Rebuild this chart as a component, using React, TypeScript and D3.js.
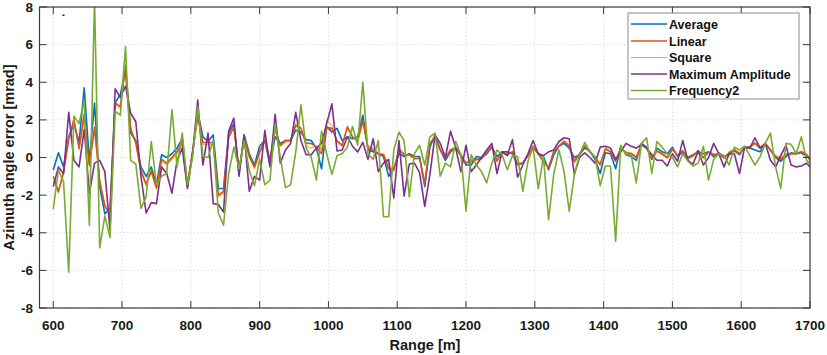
import React from "react";
import * as d3 from "d3";

const RANGE_M: number[] = [
  600, 607.5, 615, 622.5, 630, 637.5, 645, 652.5, 660, 667.5, 675, 682.5, 690, 697.5, 705, 712.5, 720, 727.5, 735, 742.5,
  750, 757.5, 765, 772.5, 780, 787.5, 795, 802.5, 810, 817.5, 825, 832.5, 840, 847.5, 855, 862.5, 870, 877.5, 885, 892.5,
  900, 907.5, 915, 922.5, 930, 937.5, 945, 952.5, 960, 967.5, 975, 982.5, 990, 997.5, 1005, 1012.5, 1020, 1027.5, 1035, 1042.5,
  1050, 1057.5, 1065, 1072.5, 1080, 1087.5, 1095, 1102.5, 1110, 1117.5, 1125, 1132.5, 1140, 1147.5, 1155, 1162.5, 1170, 1177.5, 1185, 1192.5,
  1200, 1207.5, 1215, 1222.5, 1230, 1237.5, 1245, 1252.5, 1260, 1267.5, 1275, 1282.5, 1290, 1297.5, 1305, 1312.5, 1320, 1327.5, 1335, 1342.5,
  1350, 1357.5, 1365, 1372.5, 1380, 1387.5, 1395, 1402.5, 1410, 1417.5, 1425, 1432.5, 1440, 1447.5, 1455, 1462.5, 1470, 1477.5, 1485, 1492.5,
  1500, 1507.5, 1515, 1522.5, 1530, 1537.5, 1545, 1552.5, 1560, 1567.5, 1575, 1582.5, 1590, 1597.5, 1605, 1612.5, 1620, 1627.5, 1635, 1642.5,
  1650, 1657.5, 1665, 1672.5, 1680, 1687.5, 1695, 1702.5,
];

const AVERAGE: number[] = [
  -0.66, 0.25, -0.5, 1.1, 1.8, 0.8, 3.7, -0.2, 2.9, -1.55, -3.0, -2.7, 2.9, 3.35, 4.6, 1.3, 0.9, -0.5, -1.0, -0.5,
  -1.45, 0.15, 0.0, 0.2, 0.5, 1.0, -1.55, 0.2, 2.4, 1.1, 0.85, 1.2, -1.65, -1.65, 1.3, 1.8, -0.85, 1.2, 0.2, -0.4,
  0.6, 0.9, -0.4, 1.1, 0.75, 0.9, 0.9, 1.45, 1.35, 0.95, 0.9, 0.5, -0.6, 1.65, 1.35, 1.55, 0.9, 1.1, 1.0, 1.1,
  2.25, 0.4, 0.3, 0.2, 0.05, -1.0, -0.6, 0.2, 0.05, 0.2, 0.05, 0.05, -1.55, 0.55, 1.2, 0.4, -0.15, 0.3, 0.55, 0.15,
  -0.4, -0.4, 0.05, 0.0, 0.2, 0.55, 0.05, 0.3, 0.3, 0.2, -0.4, -0.3, 0.15, 0.55, 0.2, 0.05, -0.65, 0.15, 0.6, 0.75,
  0.5, 0.0, 0.15, 0.5, 0.35, -0.1, -0.85, 0.25, 0.2, -0.6, 0.6, 0.15, 0.05, -0.15, 0.75, 0.55, -0.1, 0.5, 0.3, 0.2,
  0.55, 0.05, 0.3, 0.0, 0.15, 0.3, 0.2, 0.3, 0.05, 0.25, 0.05, 0.15, 0.35, 0.15, 0.55, 0.5, 0.4, 0.3, 0.75, 0.4,
  0.0, -0.2, 0.05, 0.25, 0.2, 0.25, 0.05, -0.05,
];

const LINEAR: number[] = [
  -1.0, -1.8, -0.8, 1.0, 2.0, 0.5, 2.3, -0.4, 1.6, -1.3, -2.6, -3.0, 2.9, 2.7, 4.9, 1.5, 0.8, -0.7, -1.4, -0.7,
  -1.6, -0.1, -0.3, 0.0, 0.3, 0.8, -1.5, 0.3, 2.2, 0.8, 0.8, 0.8, -2.0, -1.8, 1.1, 1.6, -0.7, 1.1, 0.05, -0.5,
  0.3, 0.9, -0.15, 1.5, 0.65, 0.9, 0.9, 1.7, 1.55, 0.75, 0.75, 0.55, 0.2, 1.6, 1.55, 0.9, 0.65, 1.6, 1.1, 0.9,
  2.0, 0.5, 0.4, 0.2, 0.15, -0.6, -0.65, 0.4, 0.15, 0.15, -0.05, -0.05, -1.4, 0.75, 1.1, 0.4, -0.05, 0.4, 0.5, 0.1,
  -0.3, -0.2, -0.1, -0.05, 0.25, 0.6, -0.2, 0.3, 0.15, 0.3, -0.35, -0.3, 0.1, 0.6, 0.2, -0.2, -0.55, 0.3, 0.6, 0.85,
  0.6, -0.2, 0.2, 0.6, 0.3, 0.0, -0.4, 0.45, 0.3, -0.2, 0.5, 0.25, 0.2, 0.0, 0.7, 0.5, -0.05, 0.35, 0.2, 0.0,
  0.45, 0.1, 0.35, -0.05, 0.1, 0.35, 0.0, 0.3, 0.15, 0.2, 0.0, 0.25, 0.4, 0.2, 0.55, 0.55, 0.75, 0.5, 0.75, 0.4,
  0.05, -0.1, 0.15, 0.2, 0.2, 0.3, 0.15, -0.3,
];

const SQUARE: number[] = [
  -1.2, -1.9, -0.7, 0.9, 2.1, 0.4, 2.0, -0.5, 1.5, -1.2, -2.5, -3.1, 2.8, 2.6, 4.8, 1.6, 0.7, -0.8, -1.5, -0.8,
  -1.7, -0.2, -0.4, -0.1, 0.2, 0.7, -1.4, 0.4, 2.1, 0.7, 0.7, 0.7, -2.1, -1.9, 1.0, 1.7, -0.6, 1.0, 0.0, -0.6,
  0.2, 1.0, -0.1, 1.6, 0.6, 0.8, 0.9, 1.8, 1.6, 0.6, 0.5, 0.6, 0.4, 2.0, 1.7, 0.8, 0.6, 1.7, 1.1, 0.8,
  1.8, 0.6, 0.5, 0.2, 0.2, -0.4, -0.7, 0.5, 0.2, 0.1, -0.1, 0.0, -1.3, 0.8, 1.0, 0.4, 0.0, 0.45, 0.5, 0.05,
  -0.25, -0.1, -0.15, -0.1, 0.3, 0.6, -0.1, 0.3, 0.1, 0.35, -0.3, -0.3, 0.05, 0.6, 0.2, -0.3, -0.5, 0.35, 0.6, 0.9,
  0.65, -0.3, 0.2, 0.65, 0.3, 0.05, -0.3, 0.5, 0.35, -0.1, 0.5, 0.3, 0.25, 0.05, 0.65, 0.5, 0.0, 0.3, 0.15, -0.05,
  0.4, 0.15, 0.4, -0.1, 0.05, 0.4, -0.05, 0.3, 0.2, 0.15, -0.05, 0.3, 0.45, 0.25, 0.5, 0.6, 0.8, 0.55, 0.7, 0.35,
  0.1, 0.0, 0.2, 0.15, 0.2, 0.35, 0.2, -0.2,
];

const MAX_AMPLITUDE: number[] = [
  -1.55, -0.5, -0.85, 2.4, -0.15, -0.5, 1.5, -1.9, -0.3, -0.15, -0.75, -3.85, 3.65, 3.2, 3.8, 2.35, 1.9, -1.0, -2.95, -2.4,
  -2.45, -0.5, -0.85, -1.9, -0.15, 0.5, -1.65, 0.2, 3.05, -0.4, 1.3, -2.45, -2.5, -2.9, 1.4, 2.1, -1.0, 1.2, -1.8, -1.0,
  -1.2, 1.45, -0.5, 2.3, -0.3, 0.4, 0.75, 2.4, 0.9, 0.15, 0.15, 0.5, 0.75, 1.8, 2.85, 0.35, 0.4, 1.1, 0.6, 0.3,
  0.8, -0.1, 1.0, -0.75, -0.3, -0.1, -2.15, 0.9, -2.05, -0.35, -0.3, -0.8, -2.6, -0.9, 1.2, 0.75, 0.0, 1.4, 0.5, -0.75,
  0.65, -0.75, -0.4, 0.0, 0.4, 0.75, -0.85, 0.3, 0.1, 0.95, -1.05, -0.4, 0.2, 0.9, 0.2, 0.1, 0.3, 0.4, 0.85, 1.05,
  1.0, -0.9, 0.0, 0.25, 0.0, -0.3, 0.55, 0.6, 0.5, -0.1, 0.3, 0.75, 0.6, 0.5, 0.7, 0.5, 0.15, -0.15, -0.15, -0.45,
  0.2, -0.2, 0.9, -0.15, -0.35, 0.35, -0.4, 0.0, 0.75, 0.2, -0.5, 0.2, 0.2, -0.85, 0.55, 0.5, 1.05, 0.5, 0.75, -0.15,
  -0.5, 0.1, 0.65, -0.4, -0.5, -0.45, -0.3, -0.6,
];

const FREQUENCY2: number[] = [
  -2.75, -0.66, -1.3, -6.1, 2.2, 1.8, 3.05, -3.6, 8.4, -4.8, -3.1, -4.25, 2.45, 2.25, 5.9, -0.15, -0.35, -2.7, -2.1, 0.85,
  -1.45, -1.0, -0.85, 2.55, -0.5, 1.3, -1.45, 0.05, 2.7, 0.05, 0.0, 0.9, -2.95, -3.6, -0.85, 0.55, -0.6, 0.9, -0.7, -1.5,
  -0.1, -1.45, -1.2, 1.8, 0.0, -1.6, -1.45, 0.3, 2.8, 0.5, 0.0, -1.2, 1.4, 0.2, -0.9, 0.1, 0.2, 0.55, 1.65, 0.65,
  4.0, 0.2, -0.1, 0.9, -3.15, -3.15, 0.4, 1.35, 0.9, -2.1, 0.2, 0.65, -0.4, 1.1, 1.3, -1.0, -0.3, -0.5, 0.85, 0.15,
  -2.85, 0.15, -0.4, -0.75, -1.35, -0.3, 0.4, 0.15, -0.65, 0.1, 0.05, -1.8, -0.2, 0.55, -1.65, 0.05, -3.3, -0.9, 0.4, -0.75,
  -2.85, -0.9, 0.15, 0.8, 0.3, 0.05, -1.5, -0.45, -0.45, -4.45, 0.65, 0.15, 0.15, -1.35, 0.75, 1.05, -0.85, 0.85, 0.55, 0.2,
  0.0, -0.5, 0.2, -0.2, -0.45, -0.3, 0.6, -1.2, -0.1, 0.2, 0.1, -0.4, 0.55, 0.4, 0.6, 0.1, -0.4, 0.05, 0.75, 1.3,
  -0.5, -1.65, 0.75, 0.7, 0.2, 1.1, -0.15, -0.4,
];

const SERIES_NAMES = ["Average", "Linear", "Square", "Maximum Amplitude", "Frequency2"];
const SERIES_COLORS = ["#0072BD", "#D95319", "#EDB120", "#7E2F8E", "#77AC30"];
const X_TICKS = [600, 700, 800, 900, 1000, 1100, 1200, 1300, 1400, 1500, 1600, 1700];
const Y_TICKS = [-8, -6, -4, -2, 0, 2, 4, 6, 8];
const X_LABEL = "Range [m]";
const Y_LABEL = "Azimuth angle error [mrad]";

const W = 827;
const H = 355;
const M = { left: 39.5, right: 810, top: 7, bottom: 308 };
const FONT = "Arial, 'Liberation Sans', Helvetica, sans-serif";

export default function App() {
  const x = d3.scaleLinear().domain([580, 1700]).range([M.left, M.right]);
  const y = d3.scaleLinear().domain([-8, 8]).range([M.bottom, M.top]);
  const seriesData = [AVERAGE, LINEAR, SQUARE, MAX_AMPLITUDE, FREQUENCY2];
  const drawOrder = [2, 0, 1, 3, 4];
  const widths = [1.6, 1.6, 1.1, 1.6, 1.6];
  const line = (vals: number[]) =>
    d3
      .line<number>()
      .x((_, i) => x(RANGE_M[i]))
      .y((v) => y(v))(vals) || "";

  const tickLen = 7;
  const legendX = 628;
  const legendY = 13;
  const legendW = 171;
  const legendH = 86;
  const rowYs = [24, 41, 57.5, 74, 90.5];

  return (
    <svg
      width={W}
      height={H}
      style={{ position: "absolute", left: 0, top: 0, background: "#fff" }}
      fontFamily={FONT}
    >
      <defs>
        <clipPath id="plotClip">
          <rect x={M.left} y={M.top} width={M.right - M.left} height={M.bottom - M.top} />
        </clipPath>
      </defs>
      <rect x={0} y={0} width={W} height={H} fill="#fff" />
      {/* grid */}
      <g stroke="#d6d6d6" strokeWidth={0.8} strokeDasharray="1.5,2">
        {X_TICKS.map((t) => (
          <line key={"gx" + t} x1={x(t)} x2={x(t)} y1={M.top} y2={M.bottom} />
        ))}
        {Y_TICKS.map((t) => (
          <line key={"gy" + t} x1={M.left} x2={M.right} y1={y(t)} y2={y(t)} />
        ))}
      </g>
      {/* series */}
      <g clipPath="url(#plotClip)" fill="none" strokeLinejoin="round">
        {drawOrder.map((k) => (
          <path key={SERIES_NAMES[k]} d={line(seriesData[k])} stroke={SERIES_COLORS[k]} strokeWidth={widths[k]} />
        ))}
      </g>
      <rect x={62.5} y={14.5} width={2} height={1.5} fill="#222" />
      {/* frame */}
      <rect
        x={M.left}
        y={M.top}
        width={M.right - M.left}
        height={M.bottom - M.top}
        fill="none"
        stroke="#3a3a3a"
        strokeWidth={1.2}
      />
      {/* ticks */}
      <g stroke="#3a3a3a" strokeWidth={1}>
        {X_TICKS.map((t) => (
          <g key={"tx" + t}>
            <line x1={x(t)} x2={x(t)} y1={M.bottom} y2={M.bottom - tickLen} />
            <line x1={x(t)} x2={x(t)} y1={M.top} y2={M.top + tickLen} />
          </g>
        ))}
        {Y_TICKS.map((t) => (
          <g key={"ty" + t}>
            <line x1={M.left} x2={M.left + tickLen} y1={y(t)} y2={y(t)} />
            <line x1={M.right} x2={M.right - tickLen} y1={y(t)} y2={y(t)} />
          </g>
        ))}
      </g>
      {/* tick labels */}
      <g fontSize={13.5} fontWeight="bold" fill="#1a1a1a">
        {X_TICKS.map((t) => (
          <text key={"lx" + t} x={x(t)} y={329.5} textAnchor="middle">
            {t}
          </text>
        ))}
        {Y_TICKS.map((t) => (
          <text key={"ly" + t} x={33} y={y(t) + 4.5} textAnchor="end">
            {t}
          </text>
        ))}
      </g>
      <text x={425} y={350} textAnchor="middle" fontSize={14.5} fontWeight="bold" fill="#1a1a1a">
        {X_LABEL}
      </text>
      <text
        transform={`translate(14,${(M.top + M.bottom) / 2}) rotate(-90)`}
        textAnchor="middle"
        fontSize={14.5}
        fontWeight="bold"
        fill="#1a1a1a"
      >
        {Y_LABEL}
      </text>
      {/* legend */}
      <rect x={legendX} y={legendY} width={legendW} height={legendH} fill="#fff" stroke="#8c8c8c" strokeWidth={1} />
      {SERIES_NAMES.map((name, i) => (
        <g key={"lg" + name}>
          <line
            x1={631}
            x2={667}
            y1={rowYs[i]}
            y2={rowYs[i]}
            stroke={SERIES_COLORS[i]}
            strokeWidth={i === 2 ? 1.1 : 1.6}
          />
          <text x={669} y={rowYs[i] + 4.5} fontSize={12.5} fontWeight="bold" fill="#111">
            {name}
          </text>
        </g>
      ))}
    </svg>
  );
}
